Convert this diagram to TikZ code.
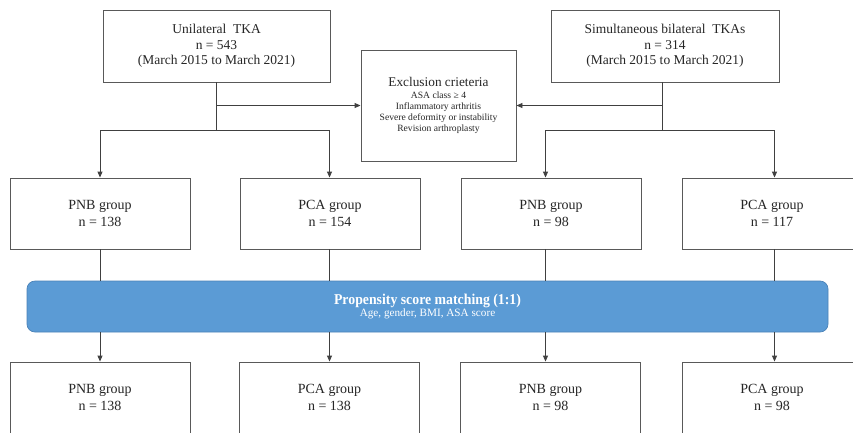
\documentclass[tikz,border=0pt]{standalone}
\usepackage{fontspec}
\setmainfont{Liberation Serif}
\newfontfamily\condfont[FakeStretch=0.92]{Liberation Serif}
\usetikzlibrary{arrows.meta,calc}
\definecolor{boxline}{HTML}{595959}
\definecolor{lineclr}{HTML}{404040}
\definecolor{txt}{HTML}{262626}
\definecolor{barblue}{HTML}{5B9BD5}
\definecolor{barborder}{HTML}{4A82B8}
\begin{document}
\begin{tikzpicture}[x=1pt,y=-1pt,
  box/.style={draw=boxline,line width=0.9pt,minimum width=180pt,minimum height=71pt,
    align=center,inner sep=0pt,text=txt,font=\fontsize{14}{17}\selectfont},
  conn/.style={draw=lineclr,line width=0.9pt},
  arr/.style={conn,-{Triangle[length=6pt,width=5pt]}},
  bar/.style={draw=barborder,line width=0.7pt,fill=barblue,rounded corners=8pt,
    minimum width=801pt,minimum height=51pt,align=center,inner sep=0pt,text=white}]
\useasboundingbox (0,0) rectangle (853,432);
\fill[white] (0,0) rectangle (853,432);
\clip (0,0) rectangle (853,432);
% top boxes
\node[box,minimum width=227pt,minimum height=72pt,font=\fontsize{13.5}{15.5}\selectfont] (uni) at (216.5,46)
  {Unilateral\ \ TKA\\n = 543\\(March 2015 to March 2021)};
\node[box,minimum width=228pt,minimum height=72pt,font=\fontsize{13.5}{15.5}\selectfont] (bil) at (665,46)
  {Simultaneous\ bilateral\ \ TKAs\\n = 314\\(March 2015 to March 2021)};
\node[box,minimum width=155pt,minimum height=111pt,font=\fontsize{9.6}{11}\selectfont] (exc) at (438.5,105.5)
  {{\fontsize{13.3}{13}\selectfont Exclusion\ crieteria}\\[1.5pt]ASA class ≥ 4\\Inflammatory\ arthritis\\Severe deformity or instability\\Revision\ arthroplasty};
% middle boxes
\node[box] (p1) at (100,213.5) {PNB group\\n = 138};
\node[box] (c1) at (330,213.5) {PCA group\\n = 154};
\node[box] (p2) at (551,213.5) {PNB group\\n = 98};
\node[box] (c2) at (772,213.5) {PCA group\\n = 117};
% matching bar
\node[bar] (psm) at (427.5,306.5)
  {{\condfont\bfseries\fontsize{15}{16}\selectfont Propensity score matching (1:1)}\\[0.5pt]
   {\fontsize{11.2}{12}\selectfont Age, gender, BMI, ASA score}};
% bottom boxes
\node[box] (p1b) at (100,397.5) {PNB group\\n = 138};
\node[box] (c1b) at (329.5,397.5) {PCA group\\n = 138};
\node[box] (p2b) at (550.5,397.5) {PNB group\\n = 98};
\node[box] (c2b) at (772,397.5) {PCA group\\n = 98};
% line x positions
\coordinate (xa) at (100,0);
\coordinate (xb) at (329.5,0);
\coordinate (xc) at (545.5,0);
\coordinate (xd) at (774.5,0);
\coordinate (xr) at (662,0);
\coordinate (yj) at (0,130);
% left tree
\draw[conn] (uni.south) -- (uni.south |- yj);
\draw[arr] (uni.south |- exc.west) -- (exc.west);
\draw[conn] (xa |- yj) -- (xb |- yj);
\draw[arr] (xa |- yj) -- (xa |- p1.north);
\draw[arr] (xb |- yj) -- (xb |- c1.north);
% right tree
\draw[conn] (xr |- bil.south) -- (xr |- yj);
\draw[arr] (xr |- exc.east) -- (exc.east);
\draw[conn] (xc |- yj) -- (xd |- yj);
\draw[arr] (xc |- yj) -- (xc |- p2.north);
\draw[arr] (xd |- yj) -- (xd |- c2.north);
% through matching
\draw[conn] (xa |- p1.south) -- (xa |- psm.north);
\draw[conn] (xb |- c1.south) -- (xb |- psm.north);
\draw[conn] (xc |- p2.south) -- (xc |- psm.north);
\draw[conn] (xd |- c2.south) -- (xd |- psm.north);
\draw[arr] (xa |- psm.south) -- (xa |- p1b.north);
\draw[arr] (xb |- psm.south) -- (xb |- c1b.north);
\draw[arr] (xc |- psm.south) -- (xc |- p2b.north);
\draw[arr] (xd |- psm.south) -- (xd |- c2b.north);
\end{tikzpicture}
\end{document}
